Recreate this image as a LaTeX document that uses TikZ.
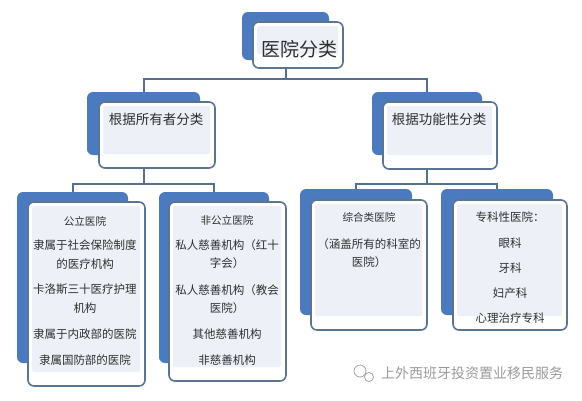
\documentclass[tikz,border=0pt]{standalone}
\usepackage{fontspec}
\setmainfont{Noto Sans CJK SC}
\usetikzlibrary{backgrounds}
\definecolor{backblue}{HTML}{4B7BBE}
\definecolor{framec}{HTML}{5B7591}
\definecolor{connc}{HTML}{54708E}
\definecolor{innerc}{HTML}{EDF1F7}
\definecolor{textc}{HTML}{2E2E2E}
\definecolor{wmc}{HTML}{9B9B9B}
\begin{document}
\begin{tikzpicture}[x=1pt,y=-1pt,
  backbox/.style={fill=backblue, rounded corners=6pt, inner sep=0pt, outer sep=0pt},
  frontbox/.style={draw=framec, line width=1.6pt, fill=white, rounded corners=6pt, inner sep=0pt, outer sep=0pt,
    path picture={\fill[innerc, rounded corners=2pt] ([shift={(4pt,-4pt)}]path picture bounding box.north west) rectangle ([shift={(-5pt,14pt)}]path picture bounding box.south east);}},
  conn/.style={draw=connc, line width=2pt},
  ln/.style={inner sep=0pt, text=textc, font=\fontsize{11.5}{12}\selectfont},
  ttl/.style={inner sep=0pt, text=textc, font=\fontsize{10.6}{11}\selectfont},
  lvtwo/.style={inner sep=0pt, text=textc, font=\fontsize{13.5}{14}\selectfont},
  wm/.style={inner sep=0pt, text=wmc, font=\fontsize{14}{15}\selectfont},
]
\useasboundingbox (0,0) rectangle (582,400);

% top
\node[backbox, minimum width=87pt, minimum height=48pt] (b0) at (285.5,36) {};
\node[frontbox, minimum width=90pt, minimum height=46pt] (f0) at (298,45) {};
\node[inner sep=0pt, text=textc, font=\fontsize{19}{20}\selectfont] (t0) at (299,49) {医院分类};

% level 2
\node[backbox, minimum width=113pt, minimum height=63pt] (b1) at (143.5,123.5) {};
\node[frontbox, minimum width=116pt, minimum height=66pt] (f1) at (157,135) {};
\node[lvtwo] (t1) at (156,119) {根据所有者分类};

\node[backbox, minimum width=110pt, minimum height=63pt] (b2) at (427,123.5) {};
\node[frontbox, minimum width=114pt, minimum height=67pt] (f2) at (440,135.5) {};
\node[lvtwo] (t2) at (439,119) {根据功能性分类};

% level 3
\node[backbox, minimum width=111pt, minimum height=171pt] (b3) at (72.5,277.5) {};
\node[frontbox, minimum width=117pt, minimum height=184pt] (f3) at (86.5,294) {};
\node[backbox, minimum width=110pt, minimum height=171pt] (b4) at (214,277.5) {};
\node[frontbox, minimum width=117pt, minimum height=179pt] (f4) at (227.5,291.5) {};
\node[backbox, minimum width=112pt, minimum height=126pt] (b5) at (356,252) {};
\node[frontbox, minimum width=116pt, minimum height=130pt] (f5) at (369,265) {};
\node[backbox, minimum width=112pt, minimum height=126pt] (b6) at (497,252) {};
\node[frontbox, minimum width=114pt, minimum height=130pt] (f6) at (510,265) {};

% texts box 3
\node[ttl] (a1) at (85,221) {公立医院};
\node[ln] (a2) at (85,245) {隶属于社会保险制度};
\node[ln] (a3) at (85,264) {的医疗机构};
\node[ln] (a4) at (85,289) {卡洛斯三十医疗护理};
\node[ln] (a5) at (85,308) {机构};
\node[ln] (a6) at (85,334) {隶属于内政部的医院};
\node[ln] (a7) at (85,360) {隶属国防部的医院};

% texts box 4
\node[ttl] (c1) at (227,220) {非公立医院};
\node[ln] (c2) at (227,245) {私人慈善机构（红十};
\node[ln] (c3) at (227,263) {字会）};
\node[ln] (c4) at (227,290) {私人慈善机构（教会};
\node[ln] (c5) at (227,308) {医院）};
\node[ln] (c6) at (227,334) {其他慈善机构};
\node[ln] (c7) at (227,360) {非慈善机构};

% texts box 5
\node[ttl] (d1) at (369,217) {综合类医院};
\node[ln] (d2) at (369,244) {（涵盖所有的科室的};
\node[ln] (d3) at (369,262) {医院）};

% texts box 6
\node[ln] (e1) at (510,217) {专科性医院：};
\node[ln] (e2) at (510,243) {眼科};
\node[ln] (e3) at (510,268) {牙科};
\node[ln] (e4) at (510,293) {妇产科};
\begin{scope}
\clip (455,305) rectangle (565,322.5);
\node[ln] (e5) at (510,318) {心理治疗专科};
\end{scope}

% watermark
\node[wm] (w) at (472,373) {上外西班牙投资置业移民服务};
\draw[wmc, line width=0.7pt] (360,371) circle[radius=6];
\draw[wmc, line width=0.7pt, fill=white] (369,377) circle[radius=4.5];

\begin{scope}[on background layer]
\fill[white] (0,0) rectangle (582,400);
\path (b0.center |- f0.south) ++(0,11) coordinate (j0);
\draw[conn] (b0.center |- f0.south) -- (j0);
\draw[conn] (j0) -| (b1.north);
\draw[conn] (j0) -| (b2.north);
\path (b1.center |- f1.south) ++(0,16) coordinate (j1);
\draw[conn] (b1.center |- f1.south) -- (j1);
\draw[conn] (j1) -| (b3.north);
\draw[conn] (j1) -| (b4.north);
\path (b2.center |- f2.south) ++(0,15) coordinate (j2);
\draw[conn] (b2.center |- f2.south) -- (j2);
\draw[conn] (j2) -| (b5.north);
\draw[conn] (j2) -| (b6.north);
\end{scope}
\end{tikzpicture}
\end{document}
